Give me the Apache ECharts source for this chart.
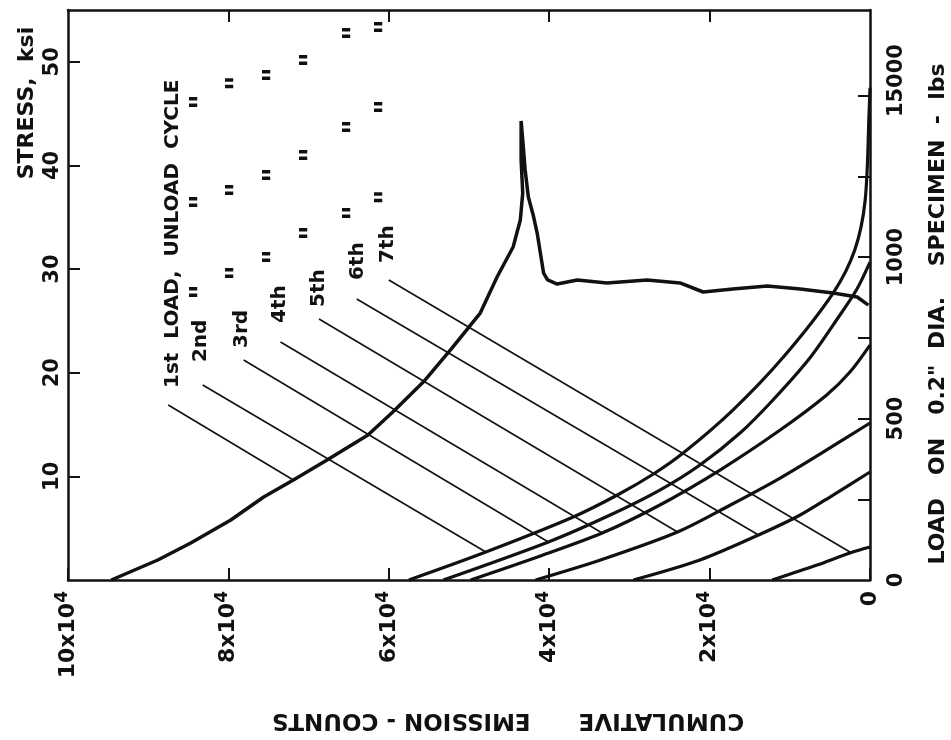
<!DOCTYPE html>
<html lang="en">
<head>
<meta charset="UTF-8">
<title>Cumulative emission counts vs stress</title>
<style>
  body { margin: 0; background: #fff; }
  #chart { width: 951px; height: 740px; }
</style>
<script src="https://cdn.jsdelivr.net/npm/echarts@6/dist/echarts.min.js"></script>
</head>
<body>
<div id="chart"></div>
<script>
// every point is [cumulative counts (x10^4), stress (ksi)]
const firstLoad = [[9.46,0],[8.88,1.93],[8.47,3.57],[7.97,5.79],[7.56,8.01],[7.19,9.65],[6.77,11.58],
  [6.26,13.99],[5.95,16.21],[5.57,19.10],[5.21,22.39],[4.86,25.76],[4.65,29.24],[4.45,32.13],[4.36,34.74],
  [4.33,37.34],[4.35,40.52],[4.35,44.29],[4.32,41.49],[4.30,39.56],[4.26,36.95],[4.20,35.22],[4.15,33.48],
  [4.07,29.62],[4.02,28.95],[3.90,28.56],[3.65,28.95],[3.28,28.66],[2.78,28.95],[2.37,28.66],[2.08,27.79],
  [1.71,28.08],[1.28,28.37],[0.87,28.08],[0.46,27.69],[0.16,27.31],[0.02,26.53]];
const cycle2 = [[5.75,0],[4.79,2.70],[3.70,6.08],[3.15,8.20],[2.70,10.23],[2.33,12.25],[1.71,16.40],
  [1.08,21.52],[0.46,27.69],[0.19,31.84],[0.06,36.67],[0.01,45.35],[0,47.5]];
const cycle3 = [[5.32,0],[4.01,3.67],[3.24,6.27],[2.62,8.68],[2.12,11.10],[1.62,14.18],[1.21,17.37],
  [0.75,21.42],[0.40,25.28],[0.17,27.98],[0,30.68]];
const cycle4 = [[4.98,0],[4.11,2.32],[3.34,4.53],[2.62,7.24],[1.87,10.61],[1.12,14.47],[0.54,17.85],
  [0.25,20.07],[0,22.67]];
const cycle5 = [[4.17,0],[3.36,1.93],[2.40,4.63],[1.74,7.24],[1.12,9.84],[0.50,12.74],[0,15.15]];
const cycle6 = [[2.95,0],[2.12,1.93],[1.39,4.34],[0.87,6.27],[0.46,8.20],[0,10.42]];
const cycle7 = [[1.22,0],[0.66,1.45],[0.25,2.61],[0,3.18]];

// leader lines from each caption to its curve
const leaderFrom = [[8.75,16.89],[8.32,18.82],[7.81,21.23],[7.35,22.96],[6.87,25.18],[6.40,27.11],[6.00,28.95]];
const leaderTo = [[7.19,9.65],[4.79,2.70],[4.01,3.67],[3.34,4.53],[2.40,4.63],[1.39,4.34],[0.25,2.70]];

const captions = ['1st  LOAD,  UNLOAD  CYCLE', '2nd', '3rd', '4th', '5th', '6th', '7th'];
const captionAt = [[8.69,18.53],[8.34,21.03],[7.83,22.39],[7.36,24.80],[6.87,26.34],[6.39,28.95],[6.01,30.59]];

// ditto marks under LOAD, UNLOAD, CYCLE for cycles 2..7
const dittoAt = [
  [8.32,27.79],[8.32,36.47],[8.32,46.12],
  [7.87,29.62],[7.87,37.63],[7.87,47.95],
  [7.40,31.17],[7.40,39.08],[7.40,48.73],
  [6.94,33.48],[6.94,41.01],[6.94,50.17],
  [6.41,35.41],[6.41,43.71],[6.41,52.78],
  [6.01,36.95],[6.01,45.64],[6.01,53.36]
];

const countTicks = [0, 2, 4, 6, 8, 10];
const stressTicks = [10, 20, 30, 40, 50];
const loadTicks = [250, 500, 750, 1000, 1250, 1500];
const loadLabelValues = [0, 500, 1000, 1500];
const loadTickText = {0: '0', 500: '500', 1000: '1000', 1500: '{w|15000}'};

const ink = '#111';
const font = 'DejaVu Sans';
const axisLine = { show: true, onZero: false, lineStyle: { color: ink, width: 2.5 } };
function ticks(values) {
    return { show: true, inside: true, length: 12, customValues: values, lineStyle: { color: ink, width: 2 } };
}

var chart = echarts.init(document.getElementById('chart'));

function curve(data, width, smooth) {
    return {
        type: 'line', data: data, symbol: 'none', smooth: smooth,
        lineStyle: { color: ink, width: width }, silent: true, z: 3
    };
}

var series = [curve(firstLoad, 3.5, false)];
[cycle2, cycle3, cycle4, cycle5, cycle6, cycle7].forEach(function (c) {
    series.push(curve(c, 3.2, 0.3));
});
leaderFrom.forEach(function (p, i) {
    series.push(curve([p, leaderTo[i]], 1.6, false));
});

series.push({
    type: 'scatter', symbolSize: 0, silent: true, z: 4,
    itemStyle: { opacity: 1 },
    data: captions.map(function (t, i) { return { name: t, value: captionAt[i] }; }),
    label: {
        show: true, position: 'inside', formatter: '{b}', rotate: 90,
        align: 'left', verticalAlign: 'middle',
        color: ink, fontFamily: font, fontWeight: 'bold', fontSize: 20
    }
});
series.push({
    type: 'scatter', symbolSize: 0, silent: true, z: 4,
    itemStyle: { opacity: 1 },
    data: dittoAt,
    label: {
        show: true, position: 'inside', formatter: '"', rotate: 90,
        align: 'center', verticalAlign: 'middle',
        color: ink, fontFamily: font, fontWeight: 'bold', fontSize: 30
    }
});

var option = {
    animation: false,
    backgroundColor: '#fff',
    grid: { left: 68, right: 81, top: 10, bottom: 160, outerBoundsMode: 'none' },
    xAxis: [{
        type: 'value', position: 'bottom', min: 0, max: 10, interval: 2, inverse: true,
        axisLine: axisLine, axisTick: ticks(countTicks), splitLine: { show: false },
        axisLabel: {
            rotate: 90, margin: 11, customValues: countTicks,
            formatter: function (v) { return v === 0 ? '{n|0}' : '{n|' + v + 'x10}{e|4}'; },
            rich: {
                n: { fontFamily: font, fontWeight: 'bold', fontSize: 22, color: ink, lineHeight: 28 },
                e: { fontFamily: font, fontWeight: 'bold', fontSize: 17, color: ink, lineHeight: 28, verticalAlign: 'top' }
            }
        }
    }, {
        type: 'value', position: 'top', min: 0, max: 10, interval: 2, inverse: true,
        axisLine: axisLine, axisTick: ticks([2, 4, 6, 8]), axisLabel: { show: false }, splitLine: { show: false }
    }],
    yAxis: [{
        type: 'value', position: 'left', min: 0, max: 55, interval: 10,
        axisLine: axisLine, axisTick: ticks(stressTicks), splitLine: { show: false },
        axisLabel: {
            rotate: 90, margin: 5, color: ink, fontFamily: font, fontWeight: 'bold', fontSize: 21,
            customValues: stressTicks
        }
    }, {
        type: 'value', position: 'right', min: 0, max: 1765, interval: 250,
        axisLine: axisLine, axisTick: ticks(loadTicks), splitLine: { show: false },
        axisLabel: {
            rotate: 90, margin: 16, color: ink, fontFamily: font, fontWeight: 'bold', fontSize: 21,
            customValues: loadLabelValues,
            formatter: function (v) { return loadTickText[v] || ''; },
            rich: {
                w: { fontFamily: font, fontWeight: 'bold', fontSize: 21, color: ink, padding: [0, 0, 0, 30] }
            }
        }
    }],
    graphic: [{
        type: 'text', x: 27, y: 103, rotation: Math.PI / 2,
        style: { text: 'STRESS,  ksi', fill: ink, fontFamily: font, fontWeight: 'bold', fontSize: 22, align: 'center', verticalAlign: 'middle' }
    }, {
        type: 'text', x: 938, y: 314, rotation: Math.PI / 2,
        style: { text: 'LOAD   ON   0.2"  DIA.    SPECIMEN  -  lbs', fill: ink, fontFamily: font, fontWeight: 'bold', fontSize: 22, align: 'center', verticalAlign: 'middle' }
    }, {
        type: 'text', x: 508, y: 720, rotation: Math.PI,
        style: { text: 'CUMULATIVE      EMISSION - COUNTS', fill: ink, fontFamily: font, fontWeight: 'bold', fontSize: 23, align: 'center', verticalAlign: 'middle' }
    }],
    series: series
};

chart.setOption(option);
</script>
</body>
</html>
